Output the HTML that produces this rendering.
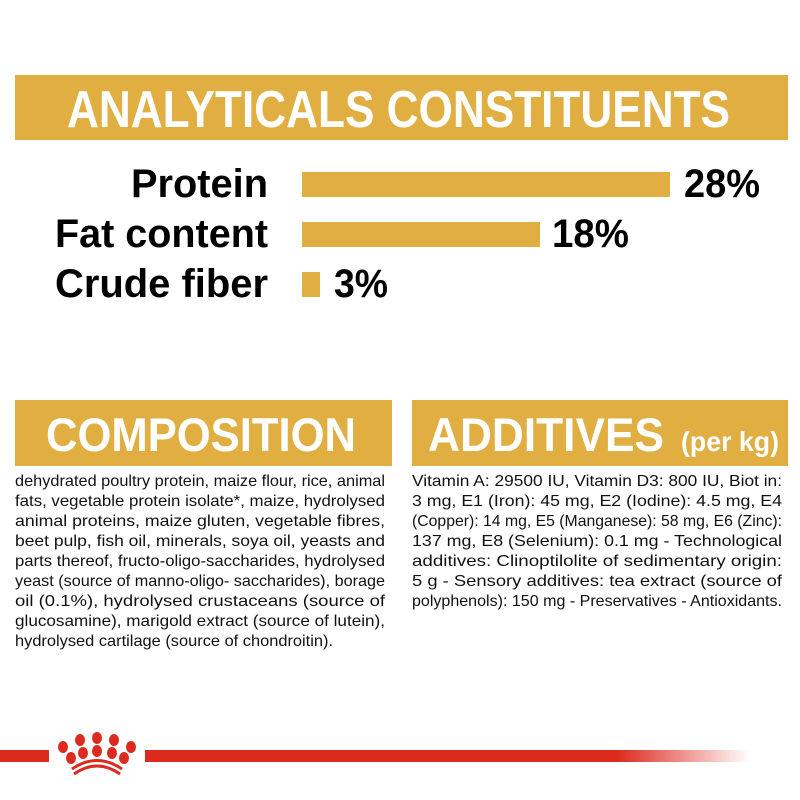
<!DOCTYPE html>
<html><head><meta charset="utf-8"><style>html,body{margin:0;padding:0;background:#fff}svg{display:block}</style></head>
<body>
<svg width="800" height="800" viewBox="0 0 800 800" xmlns="http://www.w3.org/2000/svg" font-family="'Liberation Sans Narrow','Liberation Sans',sans-serif">
<defs>
<linearGradient id="fade" x1="0" x2="1" y1="0" y2="0">
<stop offset="0" stop-color="#dc2a1e"/><stop offset="0.78" stop-color="#dc2a1e"/><stop offset="1" stop-color="#dc2a1e" stop-opacity="0"/>
</linearGradient>
</defs>
<rect x="15" y="75" width="773" height="65" fill="#e1ae42"/>
<text x="67" y="127" font-size="52" font-weight="bold" fill="#fff" textLength="663" lengthAdjust="spacingAndGlyphs">ANALYTICALS CONSTITUENTS</text>

<g font-weight="bold" font-size="40" fill="#000">
<text x="131" y="197" textLength="137" lengthAdjust="spacingAndGlyphs">Protein</text>
<text x="55" y="247" textLength="213" lengthAdjust="spacingAndGlyphs">Fat content</text>
<text x="55" y="297" textLength="213" lengthAdjust="spacingAndGlyphs">Crude fiber</text>
<text x="684" y="197" textLength="76" lengthAdjust="spacingAndGlyphs">28%</text>
<text x="552" y="247" textLength="77" lengthAdjust="spacingAndGlyphs">18%</text>
<text x="334" y="297" textLength="54" lengthAdjust="spacingAndGlyphs">3%</text>
</g>
<rect x="302" y="172" width="368" height="25" fill="#e1ae42"/>
<rect x="302" y="222" width="238" height="25" fill="#e1ae42"/>
<rect x="302" y="272" width="18" height="25" fill="#e1ae42"/>

<rect x="15" y="400" width="377" height="66" fill="#e1ae42"/>
<rect x="412" y="400" width="376" height="66" fill="#e1ae42"/>
<text x="46" y="451" font-size="47" font-weight="bold" fill="#fff" textLength="310" lengthAdjust="spacingAndGlyphs">COMPOSITION</text>
<text x="428" y="451" font-size="47" font-weight="bold" fill="#fff" textLength="236" lengthAdjust="spacingAndGlyphs">ADDITIVES</text>
<text x="681" y="451" font-size="28" font-weight="bold" fill="#fff" textLength="98" lengthAdjust="spacingAndGlyphs">(per kg)</text>

<g font-size="16" fill="#111">
<text x="15" y="486" textLength="370" lengthAdjust="spacingAndGlyphs">dehydrated poultry protein, maize flour, rice, animal</text>
<text x="15" y="506" textLength="370" lengthAdjust="spacingAndGlyphs">fats, vegetable protein isolate*, maize, hydrolysed</text>
<text x="15" y="526" textLength="370" lengthAdjust="spacingAndGlyphs">animal proteins, maize gluten, vegetable fibres,</text>
<text x="15" y="546" textLength="370" lengthAdjust="spacingAndGlyphs">beet pulp, fish oil, minerals, soya oil, yeasts and</text>
<text x="15" y="566" textLength="370" lengthAdjust="spacingAndGlyphs">parts thereof, fructo-oligo-saccharides, hydrolysed</text>
<text x="15" y="586" textLength="370" lengthAdjust="spacingAndGlyphs">yeast (source of manno-oligo- saccharides), borage</text>
<text x="15" y="606" textLength="370" lengthAdjust="spacingAndGlyphs">oil (0.1%), hydrolysed crustaceans (source of</text>
<text x="15" y="626" textLength="370" lengthAdjust="spacingAndGlyphs">glucosamine), marigold extract (source of lutein),</text>
<text x="15" y="646" textLength="318" lengthAdjust="spacingAndGlyphs">hydrolysed cartilage (source of chondroitin).</text>

<text x="412" y="486" textLength="370" lengthAdjust="spacingAndGlyphs">Vitamin A: 29500 IU, Vitamin D3: 800 IU, Biot in:</text>
<text x="412" y="506" textLength="370" lengthAdjust="spacingAndGlyphs">3 mg, E1 (Iron): 45 mg, E2 (Iodine): 4.5 mg, E4</text>
<text x="412" y="526" textLength="370" lengthAdjust="spacingAndGlyphs">(Copper): 14 mg, E5 (Manganese): 58 mg, E6 (Zinc):</text>
<text x="412" y="546" textLength="370" lengthAdjust="spacingAndGlyphs">137 mg, E8 (Selenium): 0.1 mg - Technological</text>
<text x="412" y="566" textLength="370" lengthAdjust="spacingAndGlyphs">additives: Clinoptilolite of sedimentary origin:</text>
<text x="412" y="586" textLength="370" lengthAdjust="spacingAndGlyphs">5 g - Sensory additives: tea extract (source of</text>
<text x="412" y="606" textLength="370" lengthAdjust="spacingAndGlyphs">polyphenols): 150 mg - Preservatives - Antioxidants.</text>
</g>

<rect x="0" y="750" width="49" height="12" fill="#dc2a1e"/>
<rect x="145" y="750" width="605" height="12" fill="url(#fade)"/>
<g fill="#dc2a1e">
<ellipse cx="80" cy="740" rx="5" ry="6"/>
<ellipse cx="97" cy="738" rx="5" ry="6"/>
<ellipse cx="114" cy="740" rx="5" ry="6"/>
<ellipse cx="63" cy="747" rx="5" ry="6"/>
<ellipse cx="131" cy="747" rx="5" ry="6"/>
<ellipse cx="83" cy="753" rx="5" ry="6"/>
<ellipse cx="97" cy="751" rx="5" ry="6"/>
<ellipse cx="112" cy="753" rx="5" ry="6"/>
<ellipse cx="71" cy="758" rx="5" ry="6"/>
<ellipse cx="124" cy="758" rx="5" ry="6"/>
</g>
<path d="M72 769 Q97 752 122 769" stroke="#dc2a1e" stroke-width="3" fill="none"/>
<path d="M74 774 Q97 758 120 774" stroke="#dc2a1e" stroke-width="3" fill="none"/>
</svg>
</body></html>
